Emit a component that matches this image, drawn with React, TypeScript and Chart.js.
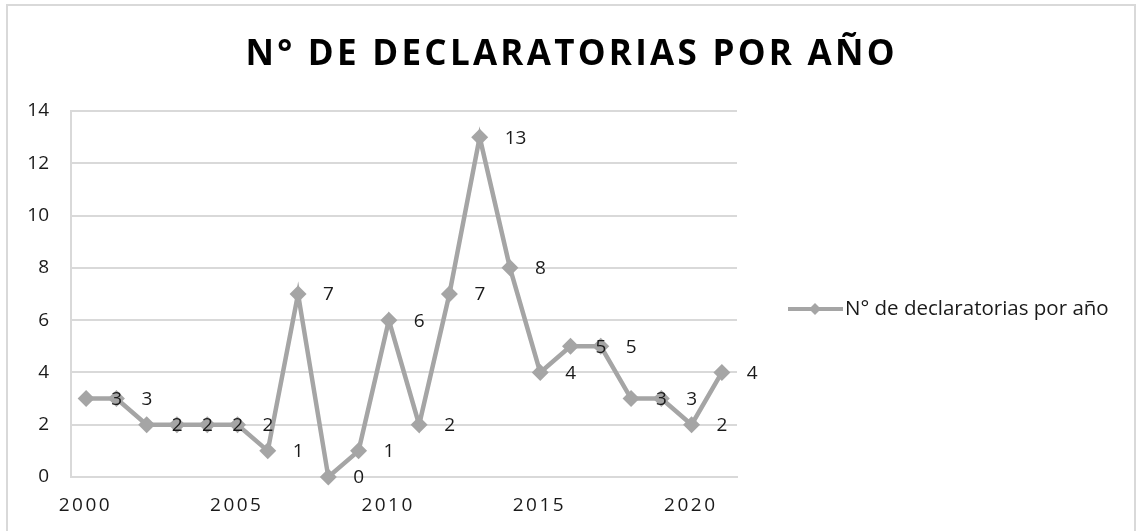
import React, { useEffect, useRef } from "react";
import { Chart, registerables } from "chart.js";

Chart.register(...registerables);

const years = [
  "2000", "2001", "2002", "2003", "2004", "2005", "2006", "2007", "2008", "2009", "2010",
  "2011", "2012", "2013", "2014", "2015", "2016", "2017", "2018", "2019", "2020", "2021",
];
const declaratorias = [3, 3, 2, 2, 2, 2, 1, 7, 0, 1, 6, 2, 7, 13, 8, 4, 5, 5, 3, 3, 2, 4];
const xTickYears = ["2000", "2005", "2010", "2015", "2020"];
const yTickValues = [0, 2, 4, 6, 8, 10, 12, 14];
const seriesName = "N° de declaratorias por año";
const chartTitle = "N° DE DECLARATORIAS POR AÑO";

const FONT = "'Open Sans', 'DejaVu Sans', sans-serif";
const GRAY = "#a5a5a5";
const GRID = "#d9d9d9";
const TEXT = "#1a1a1a";

function drawSpaced(ctx: CanvasRenderingContext2D, text: string, cx: number, y: number, spacing: number) {
  ctx.save();
  (ctx as any).letterSpacing = "0px";
  const w0 = ctx.measureText(text).width;
  const total = w0 + spacing * (text.length - 1);
  (ctx as any).letterSpacing = spacing + "px";
  ctx.textAlign = "left";
  ctx.fillText(text, cx - total / 2, y);
  ctx.restore();
}

const decorPlugin = {
  id: "decor",
  beforeDraw(chart: any) {
    const ctx = chart.ctx as CanvasRenderingContext2D;
    ctx.save();
    ctx.strokeStyle = GRID;
    ctx.lineWidth = 2;
    ctx.strokeRect(7, 5, 1128, 600);
    ctx.restore();
  },
  afterDatasetsDraw(chart: any) {
    const ctx = chart.ctx as CanvasRenderingContext2D;
    const meta = chart.getDatasetMeta(0);
    const data = chart.data.datasets[0].data as number[];
    ctx.save();
    ctx.fillStyle = TEXT;
    ctx.font = `19px ${FONT}`;
    ctx.textAlign = "left";
    ctx.textBaseline = "middle";
    meta.data.forEach((pt: any, i: number) => {
      ctx.fillText(String(data[i]), pt.x + 25, pt.y + 1);
    });
    ctx.restore();

    // x tick labels (letter spaced)
    const xs = chart.scales.x;
    ctx.save();
    ctx.fillStyle = TEXT;
    ctx.font = `19px ${FONT}`;
    ctx.textBaseline = "middle";
    xTickYears.forEach((lab) => {
      const idx = years.indexOf(lab);
      const px = xs.getPixelForValue(idx);
      drawSpaced(ctx, lab, px - 2, 506, 2.5);
    });
    ctx.restore();
  },
  afterDraw(chart: any) {
    const ctx = chart.ctx as CanvasRenderingContext2D;
    // title
    ctx.save();
    ctx.fillStyle = "#000000";
    ctx.font = `bold 35px ${FONT}`;
    ctx.textBaseline = "alphabetic";
    (ctx as any).letterSpacing = "0px";
    const w0 = ctx.measureText(chartTitle).width;
    const target = 649;
    const sp = Math.max(0, (target - w0) / (chartTitle.length - 1));
    drawSpaced(ctx, chartTitle, 570, 65, sp);
    ctx.restore();

    // legend
    const ly = 309;
    ctx.save();
    ctx.strokeStyle = GRAY;
    ctx.lineWidth = 4;
    ctx.beginPath();
    ctx.moveTo(788, ly);
    ctx.lineTo(843, ly);
    ctx.stroke();
    ctx.fillStyle = GRAY;
    ctx.beginPath();
    ctx.moveTo(815, ly - 6);
    ctx.lineTo(821, ly);
    ctx.lineTo(815, ly + 6);
    ctx.lineTo(809, ly);
    ctx.closePath();
    ctx.fill();
    ctx.fillStyle = TEXT;
    ctx.font = `20.5px ${FONT}`;
    ctx.textAlign = "left";
    ctx.textBaseline = "middle";
    ctx.fillText(seriesName, 845, ly);
    ctx.restore();
  },
};

export default function App() {
  const ref = useRef<HTMLCanvasElement | null>(null);

  useEffect(() => {
    if (!ref.current) return;
    const chart = new Chart(ref.current, {
      type: "line",
      data: {
        labels: years,
        datasets: [
          {
            label: seriesName,
            data: declaratorias,
            borderColor: GRAY,
            backgroundColor: GRAY,
            borderWidth: 4.5,
            pointStyle: "rectRot",
            pointRadius: 8.5,
            pointBorderWidth: 0,
            pointBackgroundColor: GRAY,
            tension: 0,
            clip: false as any,
          },
        ],
      },
      options: {
        responsive: false,
        animation: false,
        devicePixelRatio: 1,
        layout: { padding: { top: 111, right: 404, left: 0, bottom: 0 } },
        plugins: {
          legend: { display: false },
          title: { display: false },
          tooltip: { enabled: false },
        },
        scales: {
          x: {
            type: "category",
            offset: true,
            grid: { display: false, drawTicks: false },
            border: { display: true, color: GRID, width: 2 },
            ticks: { display: false },
            afterFit: (s: any) => {
              s.height = 54;
            },
          },
          y: {
            min: yTickValues[0],
            max: yTickValues[yTickValues.length - 1],
            afterBuildTicks: (s: any) => {
              s.ticks = yTickValues.map((v) => ({ value: v }));
            },
            ticks: {
              font: { family: FONT, size: 19 },
              color: TEXT,
              padding: 22,
            },
            grid: { color: GRID, lineWidth: 2, drawTicks: false },
            border: { display: true, color: GRID, width: 2 },
            afterFit: (s: any) => {
              s.width = 71;
            },
          },
        },
      },
      plugins: [decorPlugin],
    });
    return () => chart.destroy();
  }, []);

  return (
    <div style={{ position: "fixed", left: 0, top: 0, width: 1141, height: 531, background: "#fff" }}>
      <canvas ref={ref} width={1141} height={531} style={{ display: "block" }} />
    </div>
  );
}
